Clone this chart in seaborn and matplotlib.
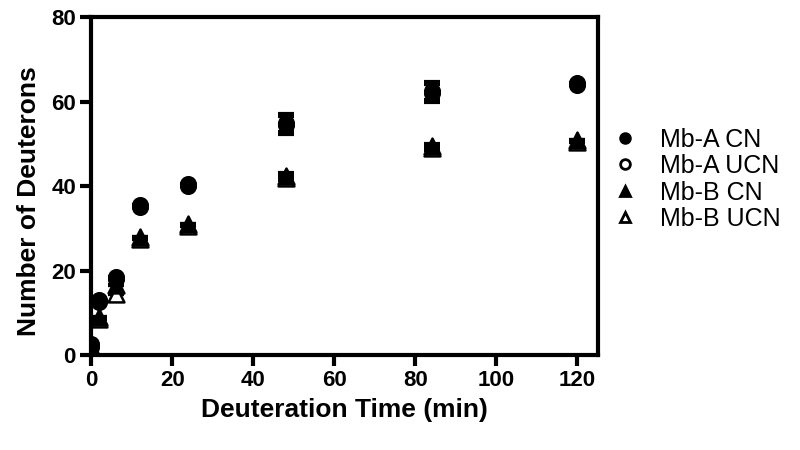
import numpy as np
import pandas as pd
import matplotlib
matplotlib.use("Agg")
import matplotlib.pyplot as plt
import seaborn as sns

time = [0, 2, 6, 12, 24, 48, 84, 120]
mba_cn = [2.5, 13, 18.5, 35.5, 40.5, 55, 62.5, 64.5]
mba_ucn = [2.0, 12.5, 18.0, 35.0, 40.0, 54.5, 62.0, 64.0]
mbb_cn = [2.0, 9, 16.5, 28, 31, 42.5, 49.5, 51]
mbb_ucn = [1.5, 8.5, 14.5, 27.5, 30.5, 42.0, 49.0, 50.5]
mba_err = [0, 0, 0, 0, 0, 2.1, 2.2, 0]
mbb_err = [0, 0, 0, 0, 0, 0.6, 0.5, 0]

series = {
    "Mb-A UCN": (mba_ucn, mba_err, "o", "white", 110),
    "Mb-B UCN": (mbb_ucn, mbb_err, "^", "white", 130),
    "Mb-A CN": (mba_cn, mba_err, "o", "black", 110),
    "Mb-B CN": (mbb_cn, mbb_err, "^", "black", 130),
}
legend_order = ["Mb-A CN", "Mb-A UCN", "Mb-B CN", "Mb-B UCN"]

sns.set_style("ticks")
plt.rcParams["font.family"] = ["Liberation Sans", "DejaVu Sans"]
plt.rcParams["text.color"] = "black"
plt.rcParams["axes.labelcolor"] = "black"
plt.rcParams["xtick.color"] = "black"
plt.rcParams["ytick.color"] = "black"
plt.rcParams["axes.edgecolor"] = "black"

fig, ax = plt.subplots(figsize=(8, 4.5), dpi=100)
fig.subplots_adjust(left=0.114, right=0.747, top=0.962, bottom=0.211)

handles = {}
for name, (vals, err, m, fc, sz) in series.items():
    df = pd.DataFrame({"t": time, "y": vals})
    ax.errorbar(time, vals, yerr=err, fmt="none", ecolor="black",
                elinewidth=2.5, capsize=6, capthick=3, zorder=2)
    sns.scatterplot(data=df, x="t", y="y", marker=m, s=sz, color=fc,
                    edgecolor="black", linewidth=1.8, ax=ax, zorder=3)
    handles[name] = plt.Line2D([], [], marker=m, linestyle="none",
                               markerfacecolor=fc, markeredgecolor="black",
                               markeredgewidth=2, markersize=7)

ax.set_xlim(0, 125)
ax.set_ylim(0, 80)
ax.set_xticks(np.arange(0, 121, 20))
ax.set_yticks(np.arange(0, 81, 20))
for s in ax.spines.values():
    s.set_linewidth(3)
    s.set_visible(True)
ax.tick_params(width=3, length=8, labelsize=16, pad=3)
for lab in ax.get_xticklabels() + ax.get_yticklabels():
    lab.set_fontweight("bold")
ax.set_xlabel("Deuteration Time (min)", fontsize=19, fontweight="bold", labelpad=5)
ax.set_ylabel("Number of Deuterons", fontsize=19, fontweight="bold")
ax.yaxis.set_label_coords(-0.10, 0.455)

ax.legend([handles[n] for n in legend_order], legend_order, loc="center left",
          bbox_to_anchor=(0.98, 0.52), frameon=False, fontsize=18,
          handletextpad=0.8, labelspacing=0.1, handlelength=1.2)

fig.savefig("out.png", dpi=100)
